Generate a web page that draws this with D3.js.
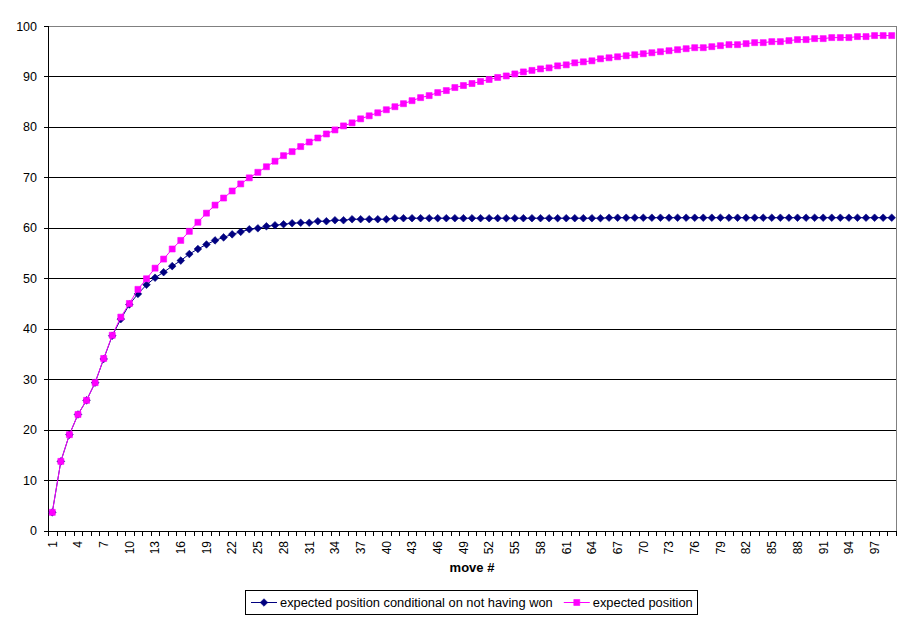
<!DOCTYPE html>
<html>
<head>
<meta charset="utf-8">
<script src="https://cdn.jsdelivr.net/npm/d3@7"></script>
<style>
  html, body { margin: 0; padding: 0; background: #fff; }
  svg { display: block; font-family: Arial, "Liberation Sans", sans-serif; }
</style>
</head>
<body>
<svg id="chart" width="911" height="623"></svg>
<script>
const categories = [1,2,3,4,5,6,7,8,9,10,11,12,13,14,15,16,17,18,19,20,21,22,23,24,25,26,27,28,29,30,
  31,32,33,34,35,36,37,38,39,40,41,42,43,44,45,46,47,48,49,50,51,52,53,54,55,56,57,58,59,60,
  61,62,63,64,65,66,67,68,69,70,71,72,73,74,75,76,77,78,79,80,81,82,83,84,85,86,87,88,89,90,
  91,92,93,94,95,96,97,98,99];

const seriesNames = ["expected position conditional on not having won", "expected position"];

const conditionalValues = [3.6,13.7,19.0,23.0,25.8,29.3,34.0,38.6,41.9,44.8,
  46.9,48.7,50.1,51.2,52.4,53.5,54.8,55.8,56.7,57.5,
  58.1,58.7,59.2,59.7,59.9,60.3,60.5,60.7,60.9,61.0,
  61.0,61.3,61.3,61.5,61.5,61.7,61.7,61.7,61.7,61.7,
  61.9,61.9,61.9,61.9,61.9,61.9,61.9,61.9,61.9,61.9,
  61.9,61.9,61.9,61.9,61.9,61.9,61.9,61.9,61.9,61.9,
  61.9,61.9,61.9,61.9,61.9,62.0,62.0,62.0,62.0,62.0,
  62.0,62.0,62.0,62.0,62.0,62.0,62.0,62.0,62.0,62.0,
  62.0,62.0,62.0,62.0,62.0,62.0,62.0,62.0,62.0,62.0,
  62.0,62.0,62.0,62.0,62.0,62.0,62.0,62.0,62.0];

const expectedValues = [3.6,13.7,19.0,23.0,25.8,29.3,34.1,38.7,42.3,45.0,
  47.8,49.9,52.0,53.8,55.8,57.5,59.3,61.1,62.9,64.5,
  65.9,67.3,68.7,69.9,71.0,72.1,73.2,74.3,75.1,76.1,
  77.0,77.8,78.6,79.4,80.2,80.8,81.6,82.2,82.8,83.4,
  84.0,84.6,85.2,85.8,86.2,86.8,87.2,87.8,88.2,88.6,
  89.0,89.4,89.8,90.1,90.5,90.9,91.2,91.5,91.7,92.1,
  92.3,92.7,92.9,93.1,93.5,93.7,93.9,94.1,94.3,94.5,
  94.7,94.9,95.1,95.3,95.5,95.7,95.7,95.9,96.1,96.3,
  96.3,96.5,96.7,96.7,96.9,96.9,97.1,97.3,97.3,97.5,
  97.5,97.7,97.7,97.7,97.9,97.9,98.1,98.1,98.1];

const yTickValues = [0,10,20,30,40,50,60,70,80,90,100];
const xTickLabels = [1,4,7,10,13,16,19,22,25,28,31,34,37,40,43,46,49,52,55,58,61,64,67,70,73,76,79,82,85,88,91,94,97];
const xAxisTitle = "move #";

const colors = ["#000080", "#FF00FF"];

(function () {
const svg = d3.select("#chart");
const pLeft = 48, pRight = 896, pTop = 26, pBottom = 530.5;

const x = d3.scaleBand().domain(categories).range([pLeft, pRight]).paddingInner(0).paddingOuter(0);
const y = d3.scaleLinear().domain([0, 100]).range([pBottom, pTop]);
const bw = x.bandwidth();
const cx = c => x(c) + bw / 2;
const snap = v => Math.round(v) + 0.5;

// gridlines
svg.append("g").selectAll("line").data(yTickValues.filter(v => v > 0 && v < 100)).join("line")
  .attr("x1", pLeft).attr("x2", pRight)
  .attr("y1", d => snap(y(d))).attr("y2", d => snap(y(d)))
  .attr("stroke", "#000").attr("stroke-width", 1).attr("shape-rendering", "crispEdges");

// plot border top/right (grey)
svg.append("path")
  .attr("d", `M${snap(pLeft)},${snap(y(100))}H${snap(pRight)}V${snap(y(0))}`)
  .attr("fill", "none").attr("stroke", "#808080").attr("shape-rendering", "crispEdges");

// y axis
const yAxisG = svg.append("g");
yAxisG.append("line").attr("x1", snap(pLeft)).attr("x2", snap(pLeft)).attr("y1", snap(y(100))).attr("y2", snap(y(0)))
  .attr("stroke", "#000").attr("shape-rendering", "crispEdges");
yAxisG.selectAll("line.tick").data(yTickValues).join("line").attr("class", "tick")
  .attr("x1", snap(pLeft) - 5).attr("x2", snap(pLeft))
  .attr("y1", d => snap(y(d))).attr("y2", d => snap(y(d)))
  .attr("stroke", "#000").attr("shape-rendering", "crispEdges");
yAxisG.selectAll("text").data(yTickValues).join("text")
  .attr("x", 37).attr("y", d => y(d)).attr("dy", "0.36em")
  .attr("text-anchor", "end").attr("font-size", 12.5).attr("fill", "#000")
  .text(d => d);

// x axis
const xAxisG = svg.append("g");
xAxisG.append("line").attr("x1", snap(pLeft)).attr("x2", snap(pRight)).attr("y1", snap(y(0))).attr("y2", snap(y(0)))
  .attr("stroke", "#000").attr("shape-rendering", "crispEdges");
const tickXs = categories.map(c => x(c)).concat([pRight]);
xAxisG.selectAll("line.tick").data(tickXs).join("line").attr("class", "tick")
  .attr("x1", d => snap(d)).attr("x2", d => snap(d))
  .attr("y1", snap(y(0))).attr("y2", snap(y(0)) + 4)
  .attr("stroke", "#000").attr("shape-rendering", "crispEdges");
xAxisG.selectAll("text").data(xTickLabels).join("text")
  .attr("transform", d => `translate(${cx(d)},541) rotate(-90)`)
  .attr("dy", "0.36em").attr("text-anchor", "end").attr("font-size", 12).attr("fill", "#000")
  .text(d => d);

svg.append("text").attr("x", (pLeft + pRight) / 2).attr("y", 572)
  .attr("text-anchor", "middle").attr("font-size", 13).attr("font-weight", "bold").text(xAxisTitle);

// series
const line = d3.line().x((d, i) => cx(categories[i])).y(d => y(d));
const diamond = "M0,-3.8L3.8,0L0,3.8L-3.8,0Z";
const square = "M-3,-3H3V3H-3Z";

function drawSeries(vals, color, markerPath) {
  const g = svg.append("g");
  g.append("path").datum(vals).attr("d", line).attr("fill", "none").attr("stroke", color).attr("stroke-width", 1);
  g.selectAll("path.m").data(vals).join("path").attr("class", "m")
    .attr("transform", (d, i) => `translate(${cx(categories[i])},${y(d)})`)
    .attr("d", markerPath).attr("fill", color).attr("stroke", color).attr("stroke-width", 0.6);
}
drawSeries(conditionalValues, colors[0], diamond);
drawSeries(expectedValues, colors[1], square);

// legend
const lg = svg.append("g");
const lgBox = lg.append("rect").attr("x", 245.5).attr("y", 590.5).attr("height", 24)
  .attr("fill", "#fff").attr("stroke", "#000").attr("shape-rendering", "crispEdges");
let lx = 251;
const ly = 602.5;
const markers = [diamond, square];
seriesNames.forEach((name, i) => {
  lg.append("line").attr("x1", lx).attr("x2", lx + 26).attr("y1", ly).attr("y2", ly)
    .attr("stroke", colors[i]).attr("stroke-width", 1);
  lg.append("path").attr("transform", `translate(${lx + 13},${ly})`).attr("d", markers[i])
    .attr("fill", colors[i]).attr("stroke", colors[i]).attr("stroke-width", 0.6);
  const t = lg.append("text").attr("x", lx + 29).attr("y", ly).attr("dy", "0.36em")
    .attr("font-size", 12.85).attr("fill", "#000").text(name);
  const w = t.node().getComputedTextLength();
  lx = lx + 29 + w + 11;
});
lgBox.attr("width", Math.round(lx - 11 + 5 - 245.5));
})();
</script>
</body>
</html>
